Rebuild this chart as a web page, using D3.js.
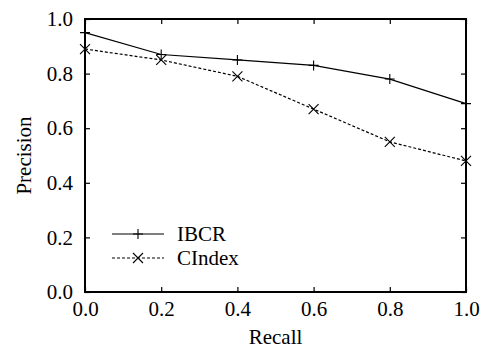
<!DOCTYPE html>
<html>
<head>
<meta charset="utf-8">
<script src="https://cdn.jsdelivr.net/npm/d3@7"></script>
<style>
  body { margin: 0; background: #fff; }
  svg text { font-family: "Liberation Serif", "Times New Roman", serif !important; fill: #000; }
</style>
</head>
<body>
<div id="chart"></div>
<script>
const recall = [0.0, 0.2, 0.4, 0.6, 0.8, 1.0];
const ibcr = [0.95, 0.87, 0.85, 0.83, 0.78, 0.69];
const cindex = [0.89, 0.85, 0.79, 0.67, 0.55, 0.48];
const xTicks = [0, 0.2, 0.4, 0.6, 0.8, 1.0];
const yTicks = [0, 0.2, 0.4, 0.6, 0.8, 1.0];

const width = 485, height = 348;
const margin = { top: 19, right: 19, bottom: 56, left: 85 };
const fontSize = 21;

const svg = d3.select('#chart').append('svg')
  .attr('width', width)
  .attr('height', height);

const x = d3.scaleLinear().domain([0, 1]).range([margin.left, width - margin.right]);
const y = d3.scaleLinear().domain([0, 1]).range([height - margin.bottom, margin.top]);

const fmt = d3.format('.1f');

// ticks pointing inwards, mirrored on all sides
const axes = [
  d3.axisBottom(x).tickValues(xTicks).tickFormat(fmt).tickSizeInner(-5).tickSizeOuter(0).tickPadding(9),
  d3.axisTop(x).tickValues(xTicks).tickFormat('').tickSizeInner(-5).tickSizeOuter(0),
  d3.axisLeft(y).tickValues(yTicks).tickFormat(fmt).tickSizeInner(-5).tickSizeOuter(0).tickPadding(12),
  d3.axisRight(y).tickValues(yTicks).tickFormat('').tickSizeInner(-5).tickSizeOuter(0)
];
const pos = [
  `translate(0,${y(0)})`, `translate(0,${y(1)})`,
  `translate(${x(0)},0)`, `translate(${x(1)},0)`
];
axes.forEach((ax, i) => {
  const g = svg.append('g').attr('transform', pos[i]).call(ax);
  g.attr('font-family', null).attr('font-size', null);
  g.select('.domain').remove();
  g.selectAll('line').attr('stroke', '#000').attr('stroke-width', 1.2);
  g.selectAll('text').attr('font-size', fontSize);
});

svg.append('rect')
  .attr('x', x(0)).attr('y', y(1))
  .attr('width', x(1) - x(0)).attr('height', y(0) - y(1))
  .attr('fill', 'none').attr('stroke', '#000').attr('stroke-width', 2);

const line = d3.line().x(d => x(d[0])).y(d => y(d[1]));

function plus(g, cx, cy, s) {
  g.append('path').attr('d', `M${cx - s},${cy}H${cx + s}M${cx},${cy - s}V${cy + s}`)
    .attr('stroke', '#000').attr('stroke-width', 1.1).attr('fill', 'none');
}
function cross(g, cx, cy, s) {
  g.append('path').attr('d', `M${cx - s},${cy - s}L${cx + s},${cy + s}M${cx - s},${cy + s}L${cx + s},${cy - s}`)
    .attr('stroke', '#000').attr('stroke-width', 1.1).attr('fill', 'none');
}

const series = [
  { name: 'IBCR', values: ibcr, dash: null, marker: plus },
  { name: 'CIndex', values: cindex, dash: '3,2', marker: cross }
];

series.forEach((s, i) => {
  const pts = recall.map((r, j) => [r, s.values[j]]);
  svg.append('path').datum(pts)
    .attr('d', line)
    .attr('fill', 'none').attr('stroke', '#000').attr('stroke-width', 1.2)
    .attr('stroke-dasharray', s.dash);
  const mg = svg.append('g');
  pts.forEach(p => s.marker(mg, x(p[0]), y(p[1]), 5));

  // legend
  const ly = 234 + i * 24;
  svg.append('line').attr('x1', 112).attr('x2', 164).attr('y1', ly).attr('y2', ly)
    .attr('stroke', '#000').attr('stroke-width', 1.2).attr('stroke-dasharray', s.dash);
  s.marker(svg, 138, ly, 5);
  svg.append('text').attr('x', 177).attr('y', ly + 7).attr('font-size', fontSize).text(s.name);
});

svg.append('text')
  .attr('x', (x(0) + x(1)) / 2).attr('y', 344)
  .attr('text-anchor', 'middle').attr('font-size', fontSize).text('Recall');

svg.append('text')
  .attr('transform', `translate(31,${(y(0) + y(1)) / 2}) rotate(-90)`)
  .attr('text-anchor', 'middle').attr('font-size', fontSize).text('Precision');
</script>
</body>
</html>
